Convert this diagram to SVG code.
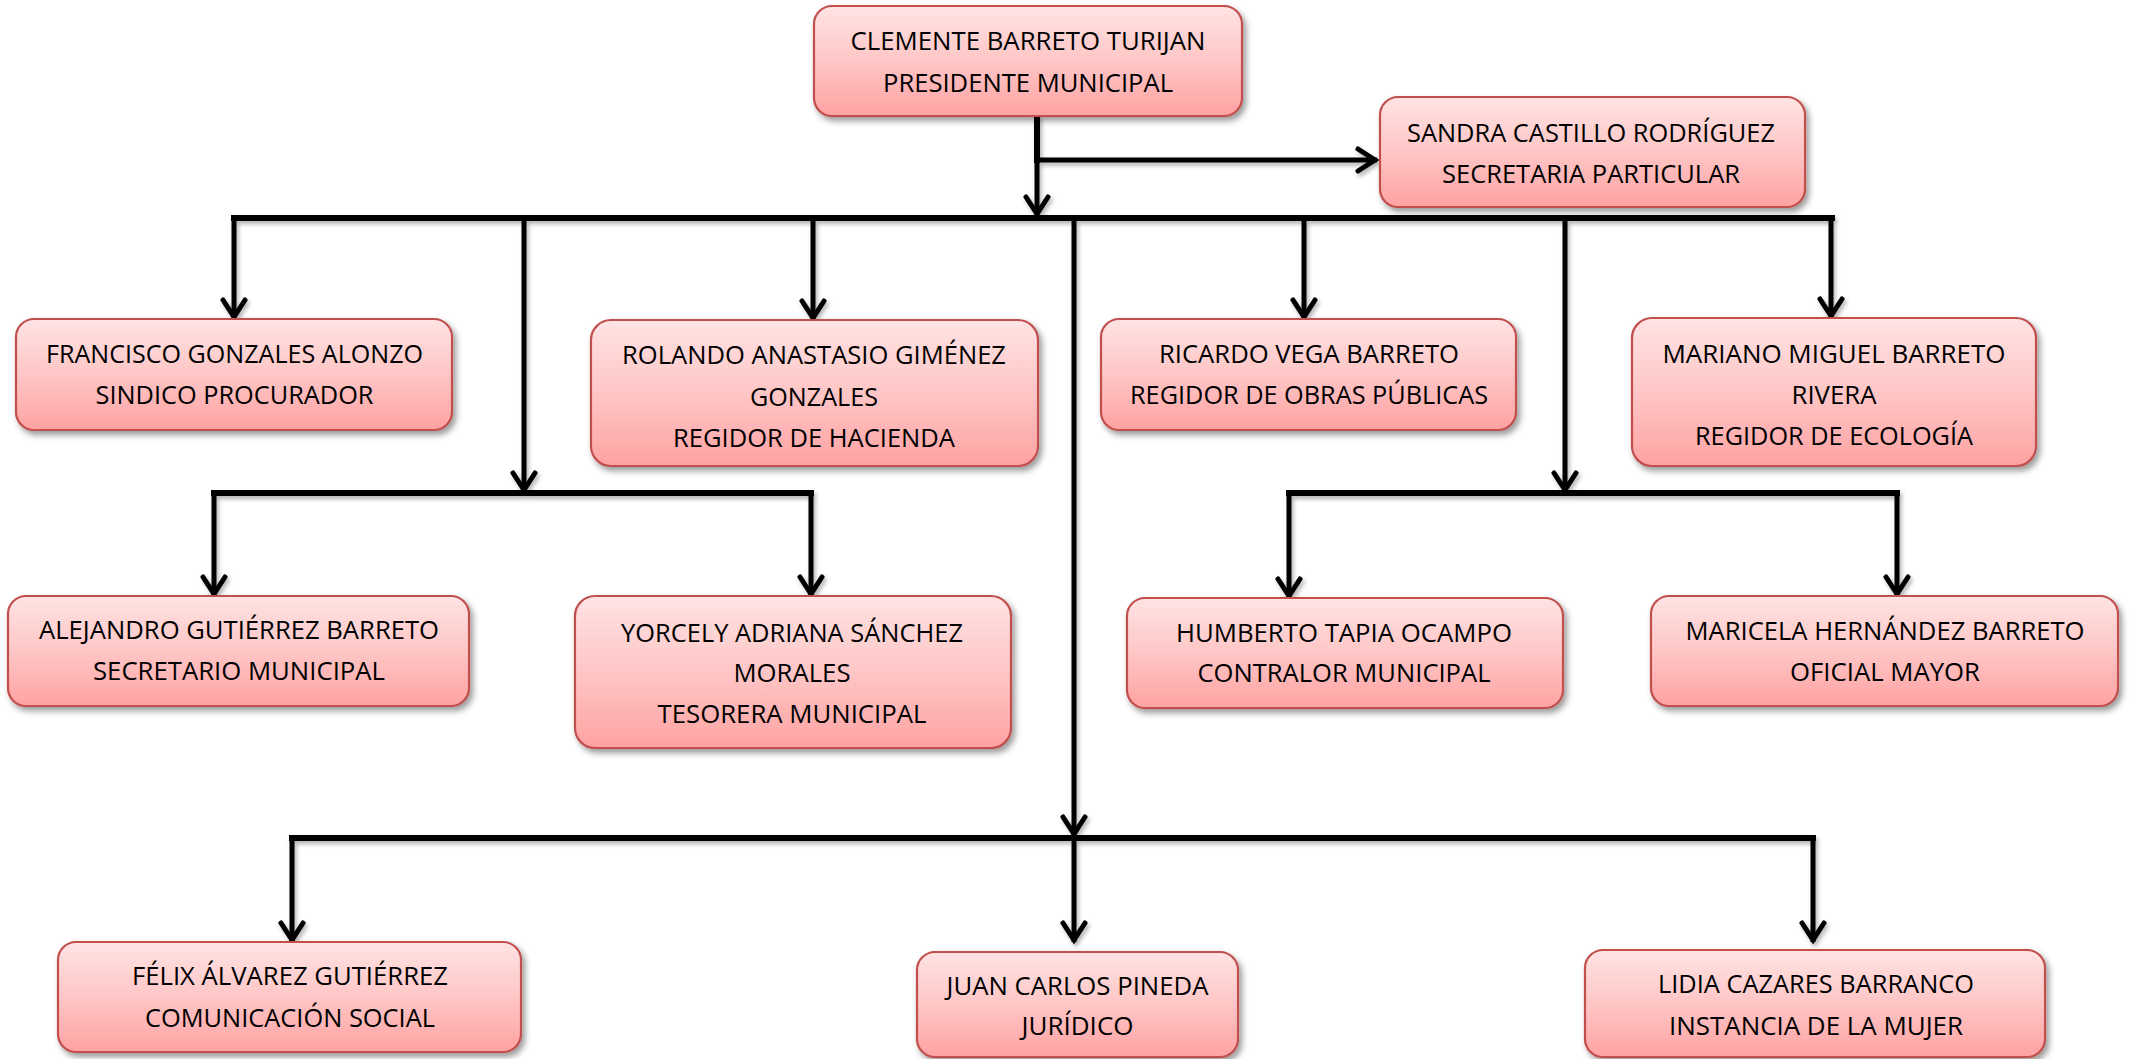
<svg xmlns="http://www.w3.org/2000/svg" width="2130" height="1059" viewBox="0 0 2130 1059">
<style>
.box{fill:url(#g);stroke:#C0504D;stroke-width:2.2;filter:url(#bs)}
.t{font-family:"Open Sans","Liberation Sans",sans-serif;font-size:25px;fill:#000;text-anchor:middle}
.bar{fill:none;stroke:#000;stroke-width:6;stroke-linecap:square}
.drop{fill:none;stroke:#000;stroke-width:5;marker-end:url(#ah)}
</style>
<defs>
<linearGradient id="g" x1="0" y1="0" x2="0" y2="1">
<stop offset="0" stop-color="#FFE3E3"/>
<stop offset="0.5" stop-color="#FFC6C6"/>
<stop offset="1" stop-color="#FFA2A2"/>
</linearGradient>
<filter id="bs" x="-10%" y="-10%" width="125%" height="130%">
<feDropShadow dx="3" dy="4" stdDeviation="3" flood-color="#000" flood-opacity="0.4"/>
</filter>
<filter id="ls" x="-5%" y="-5%" width="110%" height="115%">
<feDropShadow dx="2" dy="3" stdDeviation="2" flood-color="#000" flood-opacity="0.3"/>
</filter>
<marker id="ah" markerUnits="userSpaceOnUse" markerWidth="40" markerHeight="40" viewBox="-30 -20 40 40" refX="0" refY="0" orient="auto" overflow="visible">
<path d="M-19,-11 L-2,0 L-19,11" fill="none" stroke="#000" stroke-width="5" stroke-linecap="round" stroke-linejoin="miter"/>
</marker>
</defs>
<rect width="2130" height="1059" fill="#fff"/>

<g id="connectors" filter="url(#ls)">
<path class="bar" d="M1037,118 V160"/>
<path class="drop" d="M1037,158 V216"/>
<path class="drop" d="M1037,160 H1377"/>
<path class="bar" d="M234,218 H1832"/>
<path class="drop" d="M234,218 V319"/>
<path class="drop" d="M524,218 V492"/>
<path class="drop" d="M813,218 V320"/>
<path class="drop" d="M1074,218 V836"/>
<path class="drop" d="M1304,218 V319"/>
<path class="drop" d="M1565,218 V492"/>
<path class="drop" d="M1831,218 V318"/>
<path class="bar" d="M214,493 H811"/>
<path class="drop" d="M214,493 V596"/>
<path class="drop" d="M811,493 V596"/>
<path class="bar" d="M1289,493 H1897"/>
<path class="drop" d="M1289,493 V598"/>
<path class="drop" d="M1897,493 V596"/>
<path class="bar" d="M292,838 H1813"/>
<path class="drop" d="M292,838 V942"/>
<path class="drop" d="M1074,838 V942"/>
<path class="drop" d="M1813,838 V942"/>
</g>

<g id="n-clemente">
<rect class="box" x="814" y="6" width="428" height="110" rx="18"/>
<text class="t" x="1028" y="50" textLength="355" lengthAdjust="spacingAndGlyphs">CLEMENTE BARRETO TURIJAN</text>
<text class="t" x="1028" y="92" textLength="290" lengthAdjust="spacingAndGlyphs">PRESIDENTE MUNICIPAL</text>
</g>
<g id="n-sandra">
<rect class="box" x="1380" y="97" width="425" height="110" rx="18"/>
<text class="t" x="1591" y="142" textLength="368" lengthAdjust="spacingAndGlyphs">SANDRA CASTILLO RODRÍGUEZ</text>
<text class="t" x="1591" y="183" textLength="298" lengthAdjust="spacingAndGlyphs">SECRETARIA PARTICULAR</text>
</g>
<g id="n-francisco">
<rect class="box" x="16" y="319" width="436" height="111" rx="18"/>
<text class="t" x="234.5" y="363" textLength="377" lengthAdjust="spacingAndGlyphs">FRANCISCO GONZALES ALONZO</text>
<text class="t" x="234.5" y="404" textLength="278" lengthAdjust="spacingAndGlyphs">SINDICO PROCURADOR</text>
</g>
<g id="n-rolando">
<rect class="box" x="591" y="320" width="447" height="146" rx="20"/>
<text class="t" x="814" y="364" textLength="384" lengthAdjust="spacingAndGlyphs">ROLANDO ANASTASIO GIMÉNEZ</text>
<text class="t" x="814" y="406" textLength="128" lengthAdjust="spacingAndGlyphs">GONZALES</text>
<text class="t" x="814" y="447" textLength="282" lengthAdjust="spacingAndGlyphs">REGIDOR DE HACIENDA</text>
</g>
<g id="n-ricardo">
<rect class="box" x="1101" y="319" width="415" height="111" rx="18"/>
<text class="t" x="1309" y="363" textLength="300" lengthAdjust="spacingAndGlyphs">RICARDO VEGA BARRETO</text>
<text class="t" x="1309" y="404" textLength="358" lengthAdjust="spacingAndGlyphs">REGIDOR DE OBRAS PÚBLICAS</text>
</g>
<g id="n-mariano">
<rect class="box" x="1632" y="318" width="404" height="148" rx="20"/>
<text class="t" x="1834" y="363" textLength="343" lengthAdjust="spacingAndGlyphs">MARIANO MIGUEL BARRETO</text>
<text class="t" x="1834" y="404" textLength="85" lengthAdjust="spacingAndGlyphs">RIVERA</text>
<text class="t" x="1834" y="445" textLength="278" lengthAdjust="spacingAndGlyphs">REGIDOR DE ECOLOGÍA</text>
</g>
<g id="n-alejandro">
<rect class="box" x="8" y="596" width="461" height="110" rx="18"/>
<text class="t" x="239" y="639" textLength="400" lengthAdjust="spacingAndGlyphs">ALEJANDRO GUTIÉRREZ BARRETO</text>
<text class="t" x="239" y="680" textLength="292" lengthAdjust="spacingAndGlyphs">SECRETARIO MUNICIPAL</text>
</g>
<g id="n-yorcely">
<rect class="box" x="575" y="596" width="436" height="152" rx="20"/>
<text class="t" x="792" y="642" textLength="342" lengthAdjust="spacingAndGlyphs">YORCELY ADRIANA SÁNCHEZ</text>
<text class="t" x="792" y="682" textLength="117" lengthAdjust="spacingAndGlyphs">MORALES</text>
<text class="t" x="792" y="723" textLength="269" lengthAdjust="spacingAndGlyphs">TESORERA MUNICIPAL</text>
</g>
<g id="n-humberto">
<rect class="box" x="1127" y="598" width="436" height="110" rx="18"/>
<text class="t" x="1344" y="642" textLength="336" lengthAdjust="spacingAndGlyphs">HUMBERTO TAPIA OCAMPO</text>
<text class="t" x="1344" y="682" textLength="293" lengthAdjust="spacingAndGlyphs">CONTRALOR MUNICIPAL</text>
</g>
<g id="n-maricela">
<rect class="box" x="1651" y="596" width="467" height="110" rx="18"/>
<text class="t" x="1885" y="640" textLength="399" lengthAdjust="spacingAndGlyphs">MARICELA HERNÁNDEZ BARRETO</text>
<text class="t" x="1885" y="681" textLength="190" lengthAdjust="spacingAndGlyphs">OFICIAL MAYOR</text>
</g>
<g id="n-felix">
<rect class="box" x="58" y="942" width="463" height="110" rx="18"/>
<text class="t" x="290" y="985" textLength="316" lengthAdjust="spacingAndGlyphs">FÉLIX ÁLVAREZ GUTIÉRREZ</text>
<text class="t" x="290" y="1027" textLength="290" lengthAdjust="spacingAndGlyphs">COMUNICACIÓN SOCIAL</text>
</g>
<g id="n-juan">
<rect class="box" x="917" y="952" width="321" height="105" rx="18"/>
<text class="t" x="1077.5" y="995" textLength="262" lengthAdjust="spacingAndGlyphs">JUAN CARLOS PINEDA</text>
<text class="t" x="1077.5" y="1035" textLength="112" lengthAdjust="spacingAndGlyphs">JURÍDICO</text>
</g>
<g id="n-lidia">
<rect class="box" x="1585" y="950" width="460" height="107" rx="18"/>
<text class="t" x="1816" y="993" textLength="316" lengthAdjust="spacingAndGlyphs">LIDIA CAZARES BARRANCO</text>
<text class="t" x="1816" y="1035" textLength="294" lengthAdjust="spacingAndGlyphs">INSTANCIA DE LA MUJER</text>
</g>
</svg>
